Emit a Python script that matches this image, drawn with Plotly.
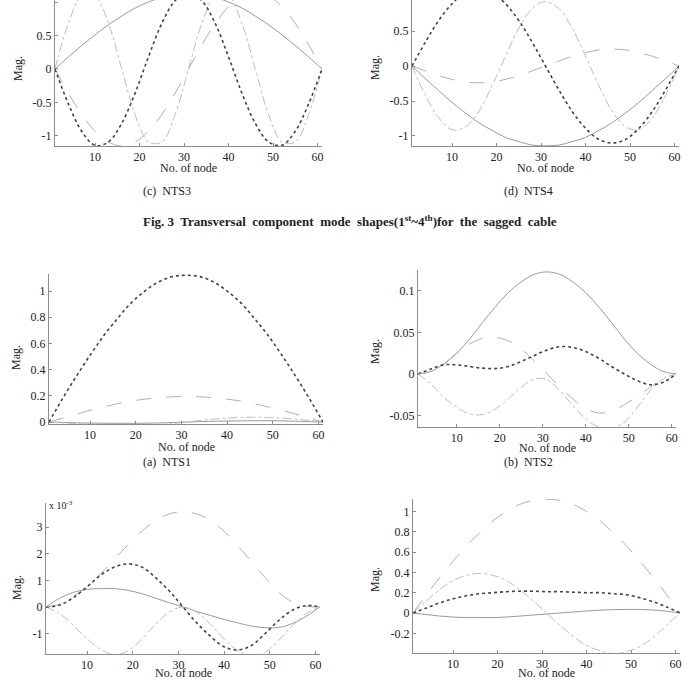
import plotly.graph_objects as go

W, H = 690, 681

# ---------------- data ----------------
nodes = [1, 4, 7, 10, 13, 16, 19, 22, 25, 28, 31, 34, 37, 40, 43, 46, 49, 52, 55, 58, 61]

# (c) NTS3 - transversal
c_dotted = [0, -0.52, -0.93, -1.14, -1.09, -0.81, -0.36, 0.18, 0.68, 1.02, 1.15, 1.02, 0.68, 0.18, -0.36, -0.81, -1.09, -1.14, -0.93, -0.52, 0]
c_solid = [0, 0.18, 0.35, 0.51, 0.66, 0.79, 0.91, 1.0, 1.07, 1.11, 1.12, 1.11, 1.07, 1.0, 0.91, 0.79, 0.66, 0.51, 0.35, 0.18, 0]
c_dashed = [0, -0.36, -0.68, -0.93, -1.09, -1.15, -1.09, -0.93, -0.68, -0.36, 0, 0.36, 0.68, 0.93, 1.09, 1.15, 1.09, 0.93, 0.68, 0.36, 0]
c_dashdot = [0, 0.68, 1.09, 1.09, 0.68, 0, -0.68, -1.09, -1.09, -0.68, 0, 0.68, 1.09, 1.09, 0.68, 0, -0.68, -1.09, -1.09, -0.68, 0]

# (d) NTS4 - transversal
d_dotted = [0, 0.34, 0.65, 0.89, 1.05, 1.1, 1.05, 0.89, 0.65, 0.34, 0, -0.34, -0.65, -0.89, -1.05, -1.1, -1.05, -0.89, -0.65, -0.34, 0]
d_solid = [0, -0.18, -0.35, -0.52, -0.67, -0.81, -0.92, -1.02, -1.08, -1.13, -1.14, -1.13, -1.08, -1.02, -0.92, -0.81, -0.67, -0.52, -0.35, -0.18, 0]
d_dashed = [0, -0.07, -0.14, -0.19, -0.23, -0.24, -0.23, -0.19, -0.14, -0.07, 0, 0.07, 0.14, 0.19, 0.23, 0.24, 0.23, 0.19, 0.14, 0.07, 0]
d_dashdot = [0, -0.42, -0.74, -0.91, -0.87, -0.65, -0.28, 0.14, 0.54, 0.82, 0.92, 0.82, 0.54, 0.14, -0.28, -0.65, -0.87, -0.91, -0.74, -0.42, 0]

# (a) NTS1 - longitudinal
a_dotted = [0, 0.18, 0.35, 0.51, 0.66, 0.79, 0.91, 1.0, 1.07, 1.11, 1.12, 1.11, 1.07, 1.0, 0.91, 0.79, 0.66, 0.51, 0.35, 0.18, 0]
a_solid = [0, -0.003, -0.006, -0.008, -0.009, -0.01, -0.01, -0.009, -0.007, -0.004, 0, 0.003, 0.006, 0.008, 0.009, 0.01, 0.01, 0.009, 0.006, 0.003, 0]
a_dashed = [0, 0.03, 0.06, 0.09, 0.115, 0.14, 0.16, 0.175, 0.185, 0.193, 0.195, 0.193, 0.185, 0.175, 0.16, 0.14, 0.115, 0.09, 0.06, 0.03, 0]
a_dashdot = [0, -0.006, -0.012, -0.018, -0.022, -0.025, -0.026, -0.024, -0.02, -0.012, 0.0, 0.012, 0.022, 0.03, 0.035, 0.037, 0.035, 0.03, 0.022, 0.012, 0]

# (b) NTS2
b_dotted = [0, 0.006, 0.011, 0.011, 0.009, 0.007, 0.0065, 0.009, 0.015, 0.022, 0.029, 0.033, 0.032, 0.027, 0.019, 0.009, 0.0, -0.008, -0.013, -0.01, 0]
b_solid = [0, 0.003, 0.012, 0.025, 0.042, 0.062, 0.081, 0.098, 0.111, 0.12, 0.123, 0.12, 0.111, 0.098, 0.081, 0.062, 0.042, 0.025, 0.012, 0.003, 0]
b_dashed = [0, 0.003, 0.012, 0.025, 0.036, 0.043, 0.044, 0.04, 0.03, 0.016, 0.0, -0.016, -0.03, -0.042, -0.047, -0.045, -0.037, -0.027, -0.016, -0.006, 0]
b_dashdot = [0, -0.012, -0.028, -0.04, -0.048, -0.049, -0.042, -0.03, -0.016, -0.006, -0.007, -0.02, -0.038, -0.054, -0.064, -0.066, -0.058, -0.04, -0.02, -0.006, 0]

# (e) lower-left, values in units of 1e-3
e_dotted = [0, 0.07, 0.35, 0.76, 1.2, 1.5, 1.62, 1.5, 1.1, 0.6, 0, -0.6, -1.1, -1.5, -1.62, -1.45, -1.0, -0.5, -0.12, 0.05, 0]
e_solid = [0, 0.33, 0.55, 0.66, 0.69, 0.69, 0.62, 0.5, 0.33, 0.16, 0, -0.17, -0.32, -0.47, -0.6, -0.72, -0.78, -0.77, -0.62, -0.35, 0]
e_dashed = [0, 0.1, 0.4, 0.76, 1.25, 1.8, 2.35, 2.85, 3.25, 3.5, 3.58, 3.5, 3.25, 2.85, 2.3, 1.7, 1.1, 0.55, 0.18, 0.02, 0]
e_dashdot = [0, -0.25, -0.7, -1.2, -1.6, -1.8, -1.65, -1.2, -0.65, -0.2, 0, -0.2, -0.65, -1.2, -1.65, -1.85, -1.7, -1.25, -0.7, -0.25, 0]

# (f) lower-right
f_dotted = [0, 0.05, 0.1, 0.14, 0.17, 0.19, 0.2, 0.21, 0.215, 0.215, 0.21, 0.21, 0.205, 0.2, 0.2, 0.19, 0.18, 0.15, 0.11, 0.06, 0]
f_solid = [0, -0.015, -0.03, -0.04, -0.045, -0.045, -0.045, -0.04, -0.03, -0.02, -0.01, 0.0, 0.01, 0.02, 0.028, 0.033, 0.035, 0.035, 0.03, 0.018, 0]
f_dashed = [0, 0.18, 0.35, 0.51, 0.66, 0.79, 0.91, 1.0, 1.07, 1.11, 1.12, 1.11, 1.07, 1.0, 0.91, 0.79, 0.66, 0.51, 0.35, 0.18, 0]
f_dashdot = [0, 0.12, 0.23, 0.32, 0.37, 0.39, 0.37, 0.32, 0.23, 0.12, 0, -0.12, -0.23, -0.32, -0.37, -0.4, -0.38, -0.33, -0.24, -0.12, 0]

x_ticks = [10, 20, 30, 40, 50, 60]
x_ticklabels = ["10", "20", "30", "40", "50", "60"]
c_yticks = [-1, -0.5, 0, 0.5, 1]
c_ylabels = ["-1", "-0.5", "0", "0.5", "1"]
d_yticks = [-1, -0.5, 0, 0.5]
d_ylabels = ["-1", "-0.5", "0", "0.5"]
a_yticks = [0, 0.2, 0.4, 0.6, 0.8, 1]
a_ylabels = ["0", "0.2", "0.4", "0.6", "0.8", "1"]
b_yticks = [-0.05, 0, 0.05, 0.1]
b_ylabels = ["-0.05", "0", "0.05", "0.1"]
e_yticks = [-1, 0, 1, 2, 3]
e_ylabels = ["-1", "0", "1", "2", "3"]
f_yticks = [-0.2, 0, 0.2, 0.4, 0.6, 0.8, 1]
f_ylabels = ["-0.2", "0", "0.2", "0.4", "0.6", "0.8", "1"]

captions = ["(c)  NTS3", "(d)  NTS4", "(a)  NTS1", "(b)  NTS2"]
fig_caption = "Fig. 3  Transversal  component  mode  shapes(1<sup>st</sup>~4<sup>th</sup>)for  the  sagged  cable"
x_title = "No. of node"
y_title = "Mag."

# ---------------- layout helpers ----------------
FONT = "Liberation Serif"

def px(x):
    return x / W

def py(y):
    return 1 - y / H

# (key, series, yticks, ylabels, [l, r, top, bottom] px, y-range, Mag. label pos, x-title centre px)
panels = [
    ("c", (c_solid, c_dashed, c_dashdot, c_dotted), c_yticks, c_ylabels, (55, 322, 0, 146), (-1.15, 1.03), (18, 69), 168),
    ("d", (d_solid, d_dashed, d_dashdot, d_dotted), d_yticks, d_ylabels, (412, 679, 0, 146), (-1.143, 0.943), (375, 68), 168),
    ("a", (a_solid, a_dashed, a_dashdot, a_dotted), a_yticks, a_ylabels, (49, 323, 274, 424), (-0.015, 1.13), (16, 358), 447),
    ("b", (b_solid, b_dashed, b_dashdot, b_dotted), b_yticks, b_ylabels, (418, 676, 270, 427), (-0.0639, 0.1253), (375, 352), 448),
    ("e", (e_solid, e_dashed, e_dashdot, e_dotted), e_yticks, e_ylabels, (46, 320, 503, 654), (-1.77, 3.91), (17, 588), 673),
    ("f", (f_solid, f_dashed, f_dashdot, f_dotted), f_yticks, f_ylabels, (413, 680, 499, 653), (-0.394, 1.123), (375, 580), 673),
]

styles = [
    dict(color="#9a9a9a", width=1, dash="solid"),
    dict(color="#b0b0b0", width=1, dash="longdash"),
    dict(color="#bdbdbd", width=1, dash="dashdot"),
    dict(color="#444444", width=1.6, dash="dot"),
]

fig = go.Figure()
annotations = []
for i, (key, series, yt, yl, box, yr, magpos, xtitle_y) in enumerate(panels):
    n = "" if i == 0 else str(i + 1)
    xa, ya = "x" + n, "y" + n
    for s, st in zip(series, styles):
        fig.add_trace(go.Scatter(x=nodes, y=s, mode="lines", xaxis=xa, yaxis=ya,
                                 line=dict(shape="spline", smoothing=1.0, **st),
                                 showlegend=False, hoverinfo="skip"))
    l, r, t, b = box
    common = dict(showline=True, linecolor="#8c8c8c", linewidth=1, mirror=False,
                  ticks="inside", ticklen=3, tickcolor="#8c8c8c", showgrid=False, zeroline=False,
                  tickfont=dict(family=FONT, size=12, color="#222"))
    fig.layout["xaxis" + n] = dict(domain=[px(l), px(r)], range=[1, 61], anchor=ya,
                                   tickvals=x_ticks, ticktext=x_ticklabels, **common)
    fig.layout["yaxis" + n] = dict(domain=[py(b), py(t)], range=list(yr), anchor=xa,
                                   tickvals=yt, ticktext=yl, **common)
    annotations.append(dict(text=y_title, x=px(magpos[0]), y=py(magpos[1]), xref="paper", yref="paper",
                            textangle=-90, showarrow=False, xanchor="center", yanchor="middle",
                            font=dict(family=FONT, size=12, color="#222")))
    annotations.append(dict(text=x_title, x=px((l + r) / 2), y=py(xtitle_y), xref="paper", yref="paper",
                            showarrow=False, xanchor="center", yanchor="middle", borderpad=0,
                            font=dict(family=FONT, size=12, color="#222")))

cap_pos = [(167, 191), (528, 191), (167, 462), (528, 462)]
for txt, (cx, cy) in zip(captions, cap_pos):
    annotations.append(dict(text=txt, x=px(cx), y=py(cy), xref="paper", yref="paper", showarrow=False,
                            xanchor="center", yanchor="middle",
                            font=dict(family=FONT, size=12, color="#222")))

annotations.append(dict(text="<b>" + fig_caption + "</b>", x=px(350), y=py(221), xref="paper", yref="paper",
                        showarrow=False, xanchor="center", yanchor="middle",
                        font=dict(family=FONT, size=13, color="#222")))
annotations.append(dict(text="x 10<sup>-3</sup>", x=px(47), y=py(505), xref="paper", yref="paper",
                        showarrow=False, xanchor="left", yanchor="middle",
                        font=dict(family=FONT, size=10, color="#222")))

fig.update_layout(width=W, height=H, margin=dict(l=0, r=0, t=0, b=0, autoexpand=False),
                  paper_bgcolor="white", plot_bgcolor="white", annotations=annotations)
fig.write_html("out.html")
